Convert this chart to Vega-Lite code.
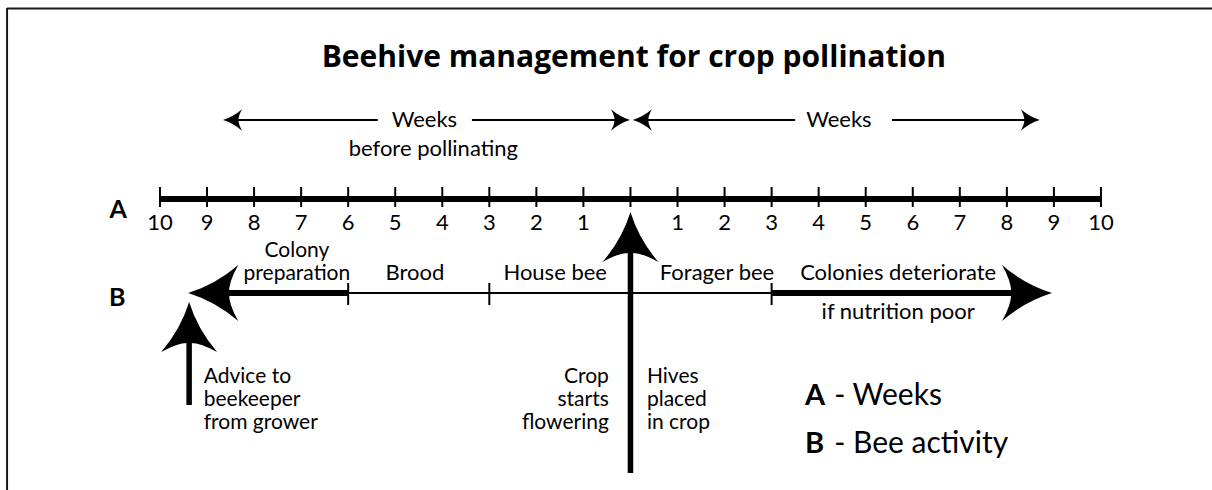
{
  "$schema": "https://vega.github.io/schema/vega-lite/v6.json",
  "width": 1212,
  "height": 490,
  "autosize": "none",
  "padding": 0,
  "background": "white",
  "config": {"view": {"stroke": null}},
  "encoding": {
    "x": {"field": "x", "type": "quantitative", "scale": {"domain": [-13.4, 12.36], "nice": false, "zero": false}, "axis": null},
    "y": {"field": "y", "type": "quantitative", "scale": {"domain": [0, 490], "reverse": true, "nice": false, "zero": false}, "axis": null}
  },
  "layer": [
    {
      "data": {"values": [
        {"x": -13.25, "x2": 12.36, "y": 8.5}
      ]},
      "mark": {"type": "rule", "strokeWidth": 2, "color": "#1a1a1a"},
      "encoding": {"x2": {"field": "x2"}}
    },
    {
      "data": {"values": [
        {"x": -13.25, "y": 8, "y2": 490}
      ]},
      "mark": {"type": "rule", "strokeWidth": 2, "color": "#1a1a1a"},
      "encoding": {"y2": {"field": "y2"}}
    },
    {
      "data": {"values": [
        {"x": -8.4, "x2": -5.37, "y": 120},
        {"x": -3.37, "x2": -0.25, "y": 120},
        {"x": 0.3, "x2": 3.5, "y": 120},
        {"x": 5.56, "x2": 8.4, "y": 120},
        {"x": -6, "x2": 3, "y": 293}
      ]},
      "mark": {"type": "rule", "strokeWidth": 2, "color": "black"},
      "encoding": {"x2": {"field": "x2"}}
    },
    {
      "data": {"values": [
        {"x": -10, "y": 187, "y2": 207}, {"x": -9, "y": 187, "y2": 207}, {"x": -8, "y": 187, "y2": 207},
        {"x": -7, "y": 187, "y2": 207}, {"x": -6, "y": 187, "y2": 207}, {"x": -5, "y": 187, "y2": 207},
        {"x": -4, "y": 187, "y2": 207}, {"x": -3, "y": 187, "y2": 207}, {"x": -2, "y": 187, "y2": 207},
        {"x": -1, "y": 187, "y2": 207}, {"x": 0, "y": 187, "y2": 207}, {"x": 1, "y": 187, "y2": 207},
        {"x": 2, "y": 187, "y2": 207}, {"x": 3, "y": 187, "y2": 207}, {"x": 4, "y": 187, "y2": 207},
        {"x": 5, "y": 187, "y2": 207}, {"x": 6, "y": 187, "y2": 207}, {"x": 7, "y": 187, "y2": 207},
        {"x": 8, "y": 187, "y2": 207}, {"x": 9, "y": 187, "y2": 207}, {"x": 10, "y": 187, "y2": 207},
        {"x": -6, "y": 283, "y2": 305}, {"x": -3, "y": 283, "y2": 305}, {"x": 3, "y": 283, "y2": 305}
      ]},
      "mark": {"type": "rule", "strokeWidth": 2, "color": "black"},
      "encoding": {"y2": {"field": "y2"}}
    },
    {
      "data": {"values": [
        {"x": -10, "x2": 10, "y": 199},
        {"x": -8.55, "x2": -6, "y": 293},
        {"x": 3, "x2": 8.75, "y": 293}
      ]},
      "mark": {"type": "rule", "strokeWidth": 6, "color": "black"},
      "encoding": {"x2": {"field": "x2"}}
    },
    {
      "data": {"values": [
        {"x": 0, "y": 250, "y2": 473},
        {"x": -9.38, "y": 340, "y2": 405}
      ]},
      "mark": {"type": "rule", "strokeWidth": 5.5, "color": "black"},
      "encoding": {"y2": {"field": "y2"}}
    },
    {
      "data": {"values": [
        {"x": -9.4, "y": 293, "angle": 270},
        {"x": 8.96, "y": 293, "angle": 90},
        {"x": 0, "y": 212, "angle": 0},
        {"x": -9.38, "y": 302, "angle": 0}
      ]},
      "mark": {"type": "point", "shape": "M0,0 Q0.17,0.55 0.56,1 Q0.2,0.8 0,0.82 Q-0.2,0.8 -0.56,1 Q-0.17,0.55 0,0 Z", "size": 10000, "filled": true, "color": "black", "opacity": 1, "strokeWidth": 0},
      "encoding": {"angle": {"field": "angle", "type": "quantitative", "scale": null}}
    },
    {
      "data": {"values": [
        {"x": -8.66, "y": 120, "angle": 270},
        {"x": -0.01, "y": 120, "angle": 90},
        {"x": 0.05, "y": 120, "angle": 270},
        {"x": 8.7, "y": 120, "angle": 90}
      ]},
      "mark": {"type": "point", "shape": "M0,0 Q0.17,0.55 0.56,1 Q0.2,0.8 0,0.82 Q-0.2,0.8 -0.56,1 Q-0.17,0.55 0,0 Z", "size": 1444, "filled": true, "color": "black", "opacity": 1, "strokeWidth": 0},
      "encoding": {"angle": {"field": "angle", "type": "quantitative", "scale": null}}
    },
    {
      "data": {"values": [
        {"x": 0.07, "y": 67, "t": "Beehive management for crop pollination"}
      ]},
      "mark": {"type": "text", "font": "Open Sans", "fontWeight": "bold", "fontSize": 30, "align": "center", "baseline": "alphabetic", "color": "black"},
      "encoding": {"text": {"field": "t"}}
    },
    {
      "data": {"values": [
        {"x": -4.38, "y": 127, "t": "Weeks"},
        {"x": -4.19, "y": 156, "t": "before pollinating"},
        {"x": 4.43, "y": 127, "t": "Weeks"},
        {"x": -4.58, "y": 280, "t": "Brood"},
        {"x": -1.6, "y": 280, "t": "House bee"},
        {"x": 1.84, "y": 280, "t": "Forager bee"},
        {"x": 5.69, "y": 280, "t": "Colonies deteriorate"},
        {"x": 5.69, "y": 319, "t": "if nutrition poor"},
        {"x": -10, "y": 230, "t": "10"}, {"x": -9, "y": 230, "t": "9"}, {"x": -8, "y": 230, "t": "8"},
        {"x": -7, "y": 230, "t": "7"}, {"x": -6, "y": 230, "t": "6"}, {"x": -5, "y": 230, "t": "5"},
        {"x": -4, "y": 230, "t": "4"}, {"x": -3, "y": 230, "t": "3"}, {"x": -2, "y": 230, "t": "2"},
        {"x": -1, "y": 230, "t": "1"},
        {"x": 1, "y": 230, "t": "1"}, {"x": 2, "y": 230, "t": "2"}, {"x": 3, "y": 230, "t": "3"},
        {"x": 4, "y": 230, "t": "4"}, {"x": 5, "y": 230, "t": "5"}, {"x": 6, "y": 230, "t": "6"},
        {"x": 7, "y": 230, "t": "7"}, {"x": 8, "y": 230, "t": "8"}, {"x": 9, "y": 230, "t": "9"},
        {"x": 10, "y": 230, "t": "10"}
      ]},
      "mark": {"type": "text", "font": "Lato", "fontSize": 22, "align": "center", "baseline": "alphabetic", "color": "black"},
      "encoding": {"text": {"field": "t"}}
    },
    {
      "data": {"values": [
        {"x": -7.09, "y": 257, "t": "Colony\npreparation"}
      ]},
      "mark": {"type": "text", "font": "Lato", "fontSize": 21, "align": "center", "baseline": "alphabetic", "color": "black", "lineBreak": "\n", "lineHeight": 23},
      "encoding": {"text": {"field": "t"}}
    },
    {
      "data": {"values": [
        {"x": -9.07, "y": 383, "t": "Advice to\nbeekeeper\nfrom grower"},
        {"x": 0.35, "y": 383, "t": "Hives\nplaced\nin crop"}
      ]},
      "mark": {"type": "text", "font": "Lato", "fontSize": 21, "align": "left", "baseline": "alphabetic", "color": "black", "lineBreak": "\n", "lineHeight": 23},
      "encoding": {"text": {"field": "t"}}
    },
    {
      "data": {"values": [
        {"x": -0.46, "y": 383, "t": "Crop\nstarts\nflowering"}
      ]},
      "mark": {"type": "text", "font": "Lato", "fontSize": 21, "align": "right", "baseline": "alphabetic", "color": "black", "lineBreak": "\n", "lineHeight": 23},
      "encoding": {"text": {"field": "t"}}
    },
    {
      "data": {"values": [
        {"x": -10.89, "y": 218, "t": "A"},
        {"x": -10.91, "y": 306, "t": "B"}
      ]},
      "mark": {"type": "text", "font": "Lato", "fontWeight": "bold", "fontSize": 25, "align": "center", "baseline": "alphabetic", "color": "black"},
      "encoding": {"text": {"field": "t"}}
    },
    {
      "data": {"values": [
        {"x": 3.71, "y": 405, "t": "A"},
        {"x": 3.71, "y": 453, "t": "B"}
      ]},
      "mark": {"type": "text", "font": "Lato", "fontWeight": "bold", "fontSize": 29, "align": "left", "baseline": "alphabetic", "color": "black"},
      "encoding": {"text": {"field": "t"}}
    },
    {
      "data": {"values": [
        {"x": 4.33, "y": 405, "t": "- Weeks"},
        {"x": 4.33, "y": 453, "t": "- Bee activity"}
      ]},
      "mark": {"type": "text", "font": "Lato", "fontSize": 30, "align": "left", "baseline": "alphabetic", "color": "black"},
      "encoding": {"text": {"field": "t"}}
    }
  ]
}
